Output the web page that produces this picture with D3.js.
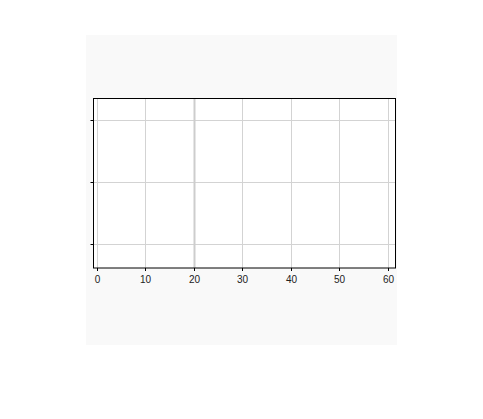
<!DOCTYPE html>
<html>
<head>
<meta charset="utf-8">
<script src="https://cdn.jsdelivr.net/npm/d3@7"></script>
<style>
  html, body { margin: 0; padding: 0; background: #ffffff; }
  svg { display: block; }
</style>
</head>
<body>
<svg id="chart" width="483" height="419"></svg>
<script>
// Data (chart is empty: only axes, gridlines and a reference line)
const xTicks = [0, 10, 20, 30, 40, 50, 60];
const yTicks = [0, 1, 2];
const xDomain = [-0.83, 61.48];
const yDomain = [-0.38, 2.35];
const referenceX = [20];

const svg = d3.select("#chart");
const bg = { x: 86, y: 35, w: 311, h: 310 };
const plot = { left: 93.5, right: 395.5, top: 98.5, bottom: 268 };

svg.append("rect")
  .attr("x", bg.x).attr("y", bg.y).attr("width", bg.w).attr("height", bg.h)
  .attr("fill", "#f9f9f9");

svg.append("rect")
  .attr("x", plot.left).attr("y", plot.top)
  .attr("width", plot.right - plot.left).attr("height", plot.bottom - plot.top)
  .attr("fill", "#ffffff");

const x = d3.scaleLinear().domain(xDomain).range([plot.left, plot.right]);
const y = d3.scaleLinear().domain(yDomain).range([plot.bottom, plot.top]);

// gridlines
const grid = svg.append("g");
grid.selectAll("line.vx").data(xTicks).enter().append("line")
  .attr("x1", d => Math.floor(x(d)) + 0.5).attr("x2", d => Math.floor(x(d)) + 0.5)
  .attr("y1", plot.top).attr("y2", plot.bottom)
  .attr("stroke", "#d3d3d3").attr("stroke-width", 1);
grid.selectAll("line.hy").data(yTicks).enter().append("line")
  .attr("y1", d => Math.floor(y(d)) + 0.5).attr("y2", d => Math.floor(y(d)) + 0.5)
  .attr("x1", plot.left).attr("x2", plot.right)
  .attr("stroke", "#d3d3d3").attr("stroke-width", 1);

// reference line
svg.selectAll("line.ref").data(referenceX).enter().append("line")
  .attr("x1", d => Math.floor(x(d)) + 0.5).attr("x2", d => Math.floor(x(d)) + 0.5)
  .attr("y1", plot.top).attr("y2", plot.bottom)
  .attr("stroke", "#cdcdcd").attr("stroke-width", 2);

// axes
const xAxis = d3.axisBottom(x).tickValues(xTicks).tickSize(3).tickPadding(5).tickSizeOuter(0);
const gx = svg.append("g").attr("transform", `translate(0,${plot.bottom})`).call(xAxis);
gx.select(".domain").remove();
gx.selectAll(".tick").attr("transform", d => `translate(${Math.floor(x(d)) + 0.5},0)`);
gx.selectAll(".tick line").attr("stroke", "#000");
gx.selectAll(".tick text")
  .attr("font-family", "'Liberation Sans', Arial, sans-serif")
  .attr("font-size", 10).attr("fill", "#222");

const yAxis = d3.axisLeft(y).tickValues(yTicks).tickSize(3).tickFormat("").tickSizeOuter(0);
const gy = svg.append("g").attr("transform", `translate(${plot.left},0)`).call(yAxis);
gy.select(".domain").remove();
gy.selectAll(".tick").attr("transform", d => `translate(0,${Math.floor(y(d)) + 0.5})`);
gy.selectAll(".tick line").attr("stroke", "#000");

// frame
svg.append("rect")
  .attr("x", plot.left).attr("y", plot.top)
  .attr("width", plot.right - plot.left).attr("height", plot.bottom - plot.top)
  .attr("fill", "none").attr("stroke", "#000").attr("stroke-width", 1);
</script>
</body>
</html>
